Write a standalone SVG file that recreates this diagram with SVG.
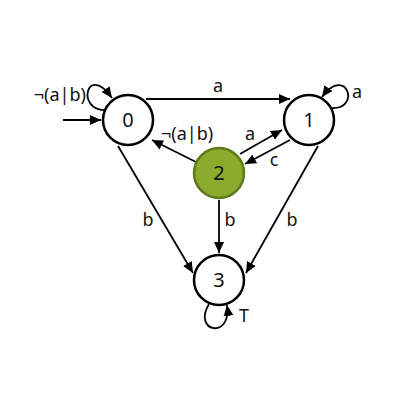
<svg xmlns="http://www.w3.org/2000/svg" width="400" height="400" viewBox="0 0 400 400">
<defs>
<marker id="ah" markerUnits="userSpaceOnUse" markerWidth="12" markerHeight="12" viewBox="0 0 12 12" refX="11" refY="6" orient="auto">
<path d="M0,1 L11,6 L0,11 Z" fill="#000"/>
</marker>
<style>
.n{fill:#fff;stroke:#000;stroke-width:2.5}
.g{fill:#8aab2e;stroke:#5c7a1a;stroke-width:2.5}
.e{fill:none;stroke:#000;stroke-width:1.8;marker-end:url(#ah)}
text{font-family:"Noto Sans","Open Sans","DejaVu Sans",sans-serif;fill:#111}
.nl{font-size:20px;text-anchor:middle}
.el{font-size:18px}
</style>
</defs>
<rect width="400" height="400" fill="#fff"/>
<g id="connectors">
<path class="e" d="M63,120 L101,120"/>
<path class="e" d="M146,99 L290,99"/>
<path class="e" d="M106,110 C76,112 86,62 112,98"/>
<path class="e" d="M331,108 C362,110 346,64 322,97"/>
<path class="e" d="M209,304 C192,332 232,340 227,305"/>
<path class="e" d="M196,162 L152,140"/>
<path class="e" d="M240,154 L282,130"/>
<path class="e" d="M290,140 L245,164"/>
<path class="e" d="M118,146 L193,273"/>
<path class="e" d="M219,200 L219,253"/>
<path class="e" d="M318,146 L246,273"/>
<text class="el" x="86" y="101" text-anchor="end">¬(a|b)</text>
<text class="el" x="218" y="92" text-anchor="middle">a</text>
<text class="el" x="352" y="98">a</text>
<text class="el" x="161" y="140">¬(a|b)</text>
<text class="el" x="250" y="140" text-anchor="middle">a</text>
<text class="el" x="274" y="166" text-anchor="middle">c</text>
<text class="el" x="148" y="226" text-anchor="middle">b</text>
<text class="el" x="230" y="226" text-anchor="middle">b</text>
<text class="el" x="292" y="226" text-anchor="middle">b</text>
<text class="el" x="244" y="322" text-anchor="middle">T</text>
</g>
<g id="node0"><circle class="n" cx="128" cy="120" r="25"/><text class="nl" x="128" y="127">0</text></g>
<g id="node1"><circle class="n" cx="309" cy="120" r="25"/><text class="nl" x="309" y="127">1</text></g>
<g id="node2"><circle class="g" cx="219" cy="173" r="25"/><text class="nl" x="219" y="180">2</text></g>
<g id="node3"><circle class="n" cx="219" cy="280" r="25"/><text class="nl" x="219" y="287">3</text></g>
</svg>
